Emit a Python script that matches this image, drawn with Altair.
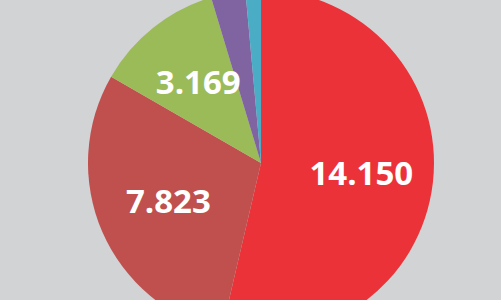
import altair as alt
import pandas as pd

categories = ["A", "B", "C", "D", "E"]
values = [14.150, 7.823, 3.169, 0.85, 0.38]
labels = ["14.150", "7.823", "3.169", "", ""]
colors = ["#EC3239", "#C0504D", "#9BBB59", "#8064A2", "#4BACC6"]

df = pd.DataFrame({
    "cat": categories,
    "value": values,
    "label": labels,
    "idx": list(range(len(categories))),
})

base = alt.Chart(df).encode(
    theta=alt.Theta("value:Q", stack=True),
    order=alt.Order("idx:O"),
)

arcs = base.mark_arc(radius=173).encode(
    color=alt.Color("cat:N", scale=alt.Scale(domain=categories, range=colors), legend=None),
)

text = base.mark_text(
    radius=101, font="Open Sans", fontWeight="bold", fontSize=33, color="white"
).encode(text="label:N")

chart = (arcs + text).properties(
    width=480,
    height=274,
    padding={"left": 21, "top": 26, "right": 0, "bottom": 0},
    autosize=alt.AutoSizeParams(type="none"),
    background="#D2D3D5",
).configure_view(stroke=None)

chart.save("out.html", embed_options={"renderer": "svg", "actions": False})
